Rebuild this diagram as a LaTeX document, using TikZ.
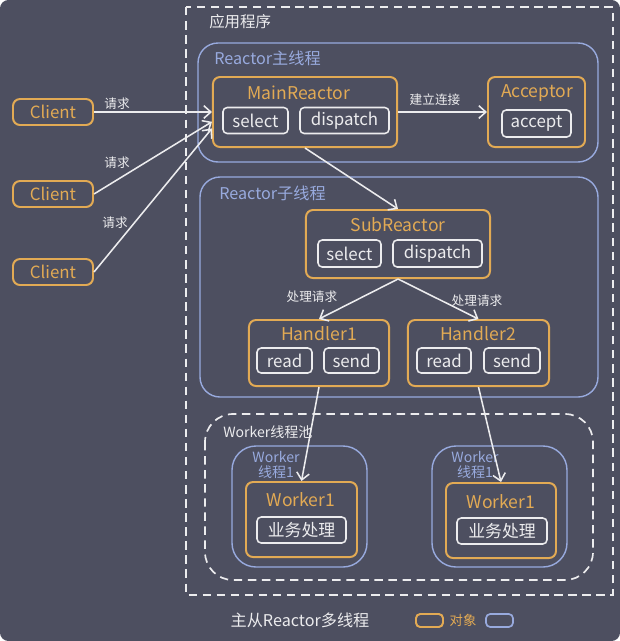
\documentclass[tikz,border=0pt]{standalone}
\usepackage{fontspec}
\setmainfont{Noto Sans CJK SC}
\usepackage{tikz}
\usetikzlibrary{arrows.meta}
\definecolor{bgc}{RGB}{77,79,96}
\definecolor{orng}{RGB}{226,170,84}
\definecolor{blu}{RGB}{152,170,222}
\definecolor{wht}{RGB}{236,236,238}

\begin{document}
\begin{tikzpicture}[x=0.025cm, y=-0.025cm,
  obj/.style={draw=orng, line width=1.4pt, rounded corners=5pt, inner sep=0pt},
  op/.style={draw=wht, line width=1.1pt, rounded corners=3pt, text=wht, font=\fontsize{12}{14}\selectfont, minimum height=0.65cm, inner sep=0pt},
  title/.style={text=orng, font=\fontsize{12.5}{14}\selectfont, inner sep=0pt},
  grp/.style={draw=blu, line width=1pt, rounded corners=0.5cm},
  pool/.style={draw=wht, line width=1.2pt, dash pattern=on 6pt off 4pt},
  grplbl/.style={anchor=west, text=blu, font=\fontsize{11.5}{13}\selectfont, inner sep=0pt},
  lbl/.style={text=wht, font=\fontsize{9}{10}\selectfont, inner sep=0pt},
  arr/.style={-{Straight Barb[length=5pt,width=9pt]}, draw=wht, line width=1.1pt}
]
\useasboundingbox (0,0) rectangle (620,641);
\fill[white] (0,0) rectangle (620,641);
\fill[bgc, rounded corners=6pt] (0,0) rectangle (620,641);

\draw[pool] (186,7) rectangle (613,595);
\node[anchor=west, text=wht, font=\fontsize{11}{13}\selectfont, inner sep=0pt] (app) at (209,22) {应用程序};

\draw[grp] (198,43) rectangle (598,162);
\node[grplbl] (mainlbl) at (214,58) {Reactor主线程};
\node[obj, minimum width=4.6cm, minimum height=1.75cm] (main) at (305,112) {};
\node[title] (maint) at (299,93) {MainReactor};
\node[op, minimum width=1.625cm] (msel) at (255.5,120.5) {select};
\node[op, minimum width=2.225cm] (mdis) at (344.5,120.5) {dispatch};
\node[obj, minimum width=2.425cm, minimum height=1.75cm] (acceptor) at (536.5,112) {};
\node[title] (acct) at (537,93) {Acceptor};
\node[op, minimum width=1.725cm, minimum height=0.675cm] (acc) at (536.5,123.5) {accept};
\node[lbl] (conn) at (435,100) {建立连接};

\node[obj, minimum width=2cm, minimum height=0.65cm, text=orng, font=\fontsize{12}{14}\selectfont] (c1) at (53,112) {Client};
\node[obj, minimum width=2cm, minimum height=0.65cm, text=orng, font=\fontsize{12}{14}\selectfont] (c2) at (53,194) {Client};
\node[obj, minimum width=2cm, minimum height=0.65cm, text=orng, font=\fontsize{12}{14}\selectfont] (c3) at (53,272) {Client};
\node[lbl] (r1) at (117,104) {请求};
\node[lbl] (r2) at (117,163) {请求};
\node[lbl] (r3) at (115,223) {请求};

\draw[grp] (200,177) rectangle (598,397);
\node[grplbl] (sublbl) at (219,193) {Reactor子线程};
\node[obj, minimum width=4.6cm, minimum height=1.7cm] (sub) at (398,244) {};
\node[title] (subt) at (398,225) {SubReactor};
\node[op, minimum width=1.575cm, minimum height=0.675cm] (ssel) at (349.5,253.5) {select};
\node[op, minimum width=2.225cm, minimum height=0.675cm] (sdis) at (437.5,253.5) {dispatch};
\node[lbl] (h1lbl) at (312,297) {处理请求};
\node[lbl] (h2lbl) at (477,301) {处理请求};

\node[obj, minimum width=3.5cm, minimum height=1.65cm] (h1) at (319,353) {};
\node[title] (h1t) at (319,334) {Handler1};
\node[op, minimum width=1.375cm, minimum height=0.625cm] (h1r) at (284.5,360.5) {read};
\node[op, minimum width=1.375cm, minimum height=0.625cm] (h1s) at (351.5,360.5) {send};
\node[obj, minimum width=3.525cm, minimum height=1.65cm] (h2) at (478.5,353) {};
\node[title] (h2t) at (478,334) {Handler2};
\node[op, minimum width=1.35cm, minimum height=0.625cm] (h2r) at (444,360.5) {read};
\node[op, minimum width=1.4cm, minimum height=0.625cm] (h2s) at (512,360.5) {send};

\draw[pool, rounded corners=0.7cm] (205,414) rectangle (593,580);
\node[anchor=west, text=wht, font=\fontsize{10}{12}\selectfont, inner sep=0pt] (poollbl) at (223,432) {Worker线程池};

\draw[grp, rounded corners=0.6cm] (232,446) rectangle (367,567);
\node[text=blu, font=\fontsize{10}{11}\selectfont, align=center, inner sep=0pt] (w1lbl) at (276,465) {Worker\\线程1};
\node[obj, minimum width=2.775cm, minimum height=1.875cm] (w1) at (301.5,519.5) {};
\node[title] (w1t) at (301,500) {Worker1};
\node[op, minimum width=2.225cm] (w1b) at (301.5,530) {业务处理};

\draw[grp, rounded corners=0.6cm] (432,446) rectangle (567,567);
\node[text=blu, font=\fontsize{10}{11}\selectfont, align=center, inner sep=0pt] (w2lbl) at (475,465) {Worker\\线程1};
\node[obj, minimum width=2.75cm, minimum height=1.875cm] (w2) at (501,520.5) {};
\node[title] (w2t) at (501,502) {Worker1};
\node[op, minimum width=2.25cm] (w2b) at (502,531) {业务处理};

\node[text=wht, font=\fontsize{11.5}{13}\selectfont, inner sep=0pt] (cap) at (300,620) {主从Reactor多线程};
\node[obj, minimum width=0.675cm, minimum height=0.325cm, rounded corners=3pt] (legobj) at (429.5,620.5) {};
\node[text=orng, font=\fontsize{9.5}{11}\selectfont, inner sep=0pt] (legobjt) at (463,620) {对象};
\node[draw=blu, line width=1.2pt, rounded corners=3pt, minimum width=0.675cm, minimum height=0.325cm, inner sep=0pt] (leggrp) at (499.5,620.5) {};

\draw[arr] (c1) -- (main.west);
\draw[arr] (c2.east) -- (main.186);
\draw[arr] (c3.east) -- (main.190);
\draw[arr] (main.east) -- (main.east -| acceptor.west);
\draw[arr] (main.south) -- (sub.north);
\draw[arr] (sub.south) -- (h1.north);
\draw[arr] (sub.south) -- (h2.north);
\draw[arr] (h1.south) -- (w1.north);
\draw[arr] (h2.south) -- (w2.north);
\end{tikzpicture}
\end{document}
